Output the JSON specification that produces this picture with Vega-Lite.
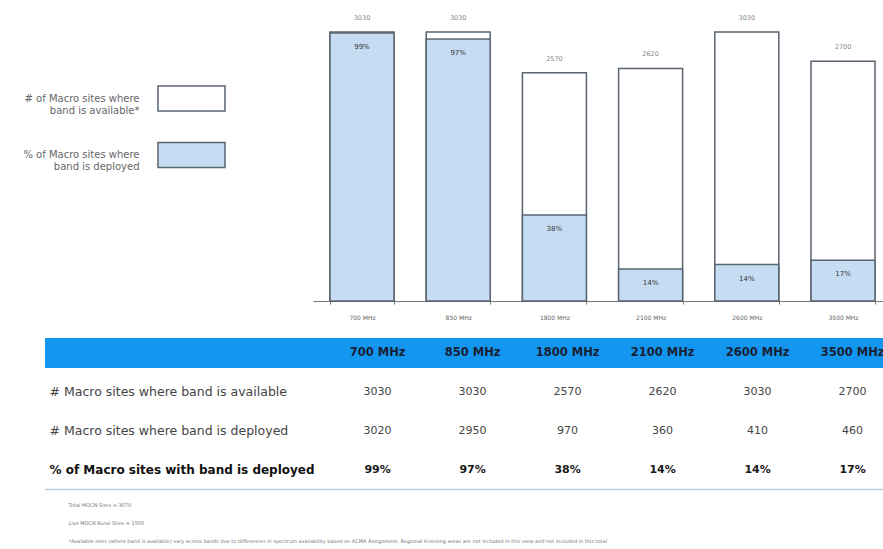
{
  "$schema": "https://vega.github.io/schema/vega-lite/v6.json",
  "background": "white",
  "padding": {"left": 7, "top": 15, "right": 0, "bottom": 0},
  "config": {"font": "DejaVu Sans", "view": {"stroke": null}},
  "datasets": {
    "bands": [
      {"band": "700 MHz", "available": 3030, "deployed": 3020, "pct": "99%"},
      {"band": "850 MHz", "available": 3030, "deployed": 2950, "pct": "97%"},
      {"band": "1800 MHz", "available": 2570, "deployed": 970, "pct": "38%"},
      {"band": "2100 MHz", "available": 2620, "deployed": 360, "pct": "14%"},
      {"band": "2600 MHz", "available": 3030, "deployed": 410, "pct": "14%"},
      {"band": "3500 MHz", "available": 2700, "deployed": 460, "pct": "17%"}
    ]
  },
  "spacing": 32.5,
  "bounds": "flush",
  "vconcat": [
    {
      "width": 838,
      "height": 269,
      "data": {"name": "bands"},
      "transform": [{"fold": ["available", "deployed"], "as": ["series", "value"]}],
      "encoding": {
        "x": {
          "field": "band", "type": "nominal",
          "scale": {"domain": ["700 MHz", "850 MHz", "1800 MHz", "2100 MHz", "2600 MHz", "3500 MHz"], "range": [268, 838], "paddingInner": 0.335, "paddingOuter": 0.13, "align": 0.68},
          "axis": {"title": null, "labelAngle": 0, "labelFontSize": 6, "labelColor": "#666", "domainColor": "#777", "tickColor": "#777", "tickSize": 3, "tickBand": "extent", "labelPadding": 10, "grid": false}
        },
        "y": {"field": "value", "type": "quantitative", "stack": null, "scale": {"domain": [0, 3030], "nice": false, "zero": true}, "axis": null}
      },
      "layer": [
        {
          "mark": {"type": "bar", "stroke": "#5a6470", "strokeWidth": 1.5},
          "encoding": {
            "fill": {
              "field": "series", "type": "nominal",
              "scale": {"domain": ["available", "deployed"], "range": ["#ffffff", "#c5dcf2"]},
              "legend": {
                "orient": "none", "legendX": -38, "legendY": 32, "title": null, "padding": 0,
                "symbolType": "M-1,-0.373H1V0.373H-1Z", "symbolSize": 4489,
                "symbolStrokeColor": "#5a6470", "symbolStrokeWidth": 1.5, "symbolOffset": 150,
                "labelOffset": -86.5, "labelAlign": "right", "labelFontSize": 10, "labelColor": "#666",
                "rowPadding": 4.5, "labelLimit": 300,
                "labelExpr": "datum.value == 'available' ? ['# of Macro sites where', 'band is available*'] : ['% of Macro sites where', 'band is deployed']"
              }
            }
          }
        },
        {
          "transform": [{"filter": "datum.series == 'available'"}],
          "mark": {"type": "text", "baseline": "middle", "dy": -14, "fontSize": 6.5, "color": "#888"},
          "encoding": {"text": {"field": "value", "type": "nominal"}}
        },
        {
          "transform": [{"filter": "datum.series == 'deployed'"}],
          "mark": {"type": "text", "baseline": "middle", "dy": 14, "fontSize": 7, "color": "#333"},
          "encoding": {"text": {"field": "pct", "type": "nominal"}}
        }
      ]
    },
    {
      "width": 838,
      "height": 156,
      "data": {"name": "bands"},
      "transform": [{"fold": ["band", "available", "deployed", "pct"], "as": ["row", "val"]}],
      "encoding": {
        "x": {
          "field": "band", "type": "nominal",
          "scale": {"domain": ["700 MHz", "850 MHz", "1800 MHz", "2100 MHz", "2600 MHz", "3500 MHz"], "range": [268, 838], "paddingInner": 0.335, "paddingOuter": 0.13, "align": 0.68},
          "axis": {
            "orient": "bottom", "labels": false, "ticks": false, "domain": false, "grid": false,
            "title": ["Total MOCN Sites = 3070", "Live MOCN Rural Sites = 1500", "*Available sites (where band is available) vary across bands due to differences in spectrum availability based on ACMA Assignment. Regional licensing areas are not included in this view and not included in this total"],
            "titleX": 23, "titleY": 13, "titleAlign": "left", "titleBaseline": "top", "titleAnchor": "start",
            "titleFontSize": 5, "titleFontWeight": "normal", "titleColor": "#777", "titleLineHeight": 18
          }
        },
        "y": {
          "field": "row", "type": "nominal",
          "scale": {"domain": ["band", "available", "deployed", "pct"], "paddingInner": 0.23, "paddingOuter": 0.115},
          "axis": {
            "title": null, "domain": false, "ticks": false, "grid": false,
            "labelAlign": "left", "labelPadding": -4, "labelLimit": 400,
            "labelFontSize": {"condition": {"test": "datum.value == 'pct'", "value": 12}, "value": 12.5},
            "labelColor": {"condition": {"test": "datum.value == 'pct'", "value": "#111111"}, "value": "#444444"},
            "labelFontWeight": {"condition": {"test": "datum.value == 'pct'", "value": "bold"}, "value": "normal"},
            "labelExpr": "datum.value == 'available' ? '# Macro sites where band is available' : datum.value == 'deployed' ? '# Macro sites where band is deployed' : datum.value == 'pct' ? '% of Macro sites with band is deployed' : ''"
          }
        }
      },
      "layer": [
        {
          "transform": [{"filter": "datum.row == 'band' && datum.band == '700 MHz'"}],
          "mark": {"type": "rect", "color": "#1296f0"},
          "encoding": {"x": {"value": 0}, "x2": {"value": "width"}}
        },
        {
          "transform": [{"filter": "datum.row == 'pct' && datum.band == '700 MHz'"}],
          "mark": {"type": "rule", "color": "#b9cde3", "strokeWidth": 1.5},
          "encoding": {"x": {"value": 0}, "x2": {"value": "width"}, "y": {"field": "row", "type": "nominal", "bandPosition": 1.15}}
        },
        {
          "transform": [{"filter": "datum.row == 'available' || datum.row == 'deployed'"}],
          "mark": {"type": "text", "fontSize": 11, "color": "#444"},
          "encoding": {"text": {"field": "val", "type": "nominal"}}
        },
        {
          "transform": [{"filter": "datum.row == 'band'"}],
          "mark": {"type": "text", "fontSize": 11.5, "fontWeight": "bold", "color": "#1a1f33"},
          "encoding": {"text": {"field": "val", "type": "nominal"}}
        },
        {
          "transform": [{"filter": "datum.row == 'pct'"}],
          "mark": {"type": "text", "fontSize": 11, "fontWeight": "bold", "color": "#1a1a1a"},
          "encoding": {"text": {"field": "val", "type": "nominal"}}
        }
      ]
    }
  ]
}
